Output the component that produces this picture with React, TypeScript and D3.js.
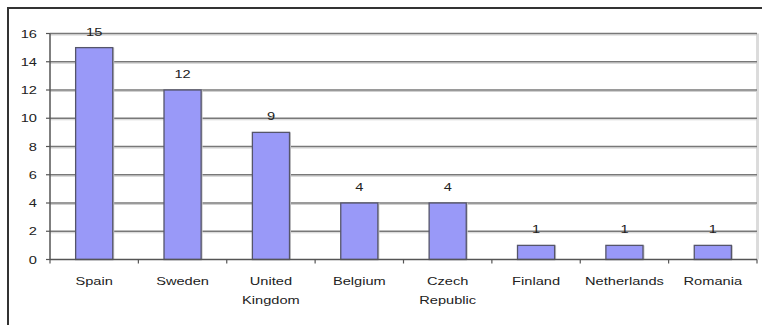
import React from "react";
import * as d3 from "d3";

const categories = ["Spain", "Sweden", "United Kingdom", "Belgium", "Czech Republic", "Finland", "Netherlands", "Romania"];
const categoryLines = [["Spain"], ["Sweden"], ["United", "Kingdom"], ["Belgium"], ["Czech", "Republic"], ["Finland"], ["Netherlands"], ["Romania"]];
const values = [15, 12, 9, 4, 4, 1, 1, 1];
const yTicks = [0, 2, 4, 6, 8, 10, 12, 14, 16];

const W = 762;
const H = 325;
const plot = { left: 50, right: 757, top: 33.5, bottom: 259.5 };
const font = "'Liberation Sans', Arial, sans-serif";
const SX = 1.33;

function Label({ x, y, anchor, children }: { x: number; y: number; anchor: "start" | "middle" | "end"; children: React.ReactNode }) {
  return (
    <text
      transform={`translate(${x},${y}) scale(${SX},1)`}
      textAnchor={anchor}
      fontFamily={font}
      fontSize={11}
      fill="#222"
    >
      {children}
    </text>
  );
}

export default function App() {
  const x = d3.scaleBand<string>().domain(categories).range([plot.left, plot.right]).padding(0);
  const y = d3.scaleLinear().domain([0, 16]).range([plot.bottom, plot.top]);
  const barW = x.bandwidth() * 0.42;

  return (
    <svg width={W} height={H} style={{ position: "absolute", left: 0, top: 0, background: "#fff" }}>
      {/* outer chart frame */}
      <rect x={8} y={8} width={W} height={H} fill="#fff" stroke="#333" strokeWidth={2} />

      {/* plot area shadow on right */}
      <line x1={plot.right + 1.5} x2={plot.right + 1.5} y1={plot.top} y2={plot.bottom} stroke="#dcdcdc" strokeWidth={1} />
      <line x1={plot.right} x2={plot.right} y1={plot.top} y2={plot.bottom} stroke="#b8b8b8" strokeWidth={1} />

      {/* gridlines */}
      {yTicks.filter((t) => t > 0).map((t) => (
        <g key={t}>
          <line x1={plot.left} x2={plot.right} y1={y(t) + 1.5} y2={y(t) + 1.5} stroke="#d0d0d0" strokeWidth={1} />
          <line x1={plot.left} x2={plot.right} y1={y(t)} y2={y(t)} stroke="#787878" strokeWidth={1.5} />
        </g>
      ))}

      {/* bars */}
      {values.map((v, i) => {
        const cx = (x(categories[i]) as number) + x.bandwidth() / 2;
        return (
          <g key={categories[i]}>
            <rect x={cx - barW / 2 + 1.5} y={y(v)} width={barW} height={plot.bottom - y(v)} fill="#c8c8c8" />
            <rect x={cx - barW / 2} y={y(v)} width={barW} height={plot.bottom - y(v)} fill="#9999f8" stroke="#55556a" strokeWidth={1.3} />
            <Label x={cx} y={y(v) - 12} anchor="middle">{v}</Label>
          </g>
        );
      })}

      {/* y axis */}
      <line x1={plot.left} x2={plot.left} y1={plot.top} y2={plot.bottom} stroke="#555" strokeWidth={1.5} />
      {yTicks.map((t) => (
        <g key={t}>
          <line x1={plot.left - 4} x2={plot.left} y1={y(t)} y2={y(t)} stroke="#555" strokeWidth={1.2} />
          <Label x={37} y={y(t) + 4} anchor="end">{t}</Label>
        </g>
      ))}

      {/* x axis */}
      <line x1={plot.left} x2={plot.right} y1={plot.bottom} y2={plot.bottom} stroke="#555" strokeWidth={1.5} />
      {categories.map((c) => (
        <line key={c} x1={x(c) as number} x2={x(c) as number} y1={plot.bottom} y2={plot.bottom + 4} stroke="#555" strokeWidth={1.2} />
      ))}
      <line x1={plot.right} x2={plot.right} y1={plot.bottom} y2={plot.bottom + 4} stroke="#555" strokeWidth={1.2} />
      {categoryLines.map((lines, i) => {
        const cx = (x(categories[i]) as number) + x.bandwidth() / 2;
        return lines.map((ln, j) => (
          <Label key={`${i}-${j}`} x={cx} y={285 + j * 19} anchor="middle">{ln}</Label>
        ));
      })}
    </svg>
  );
}
